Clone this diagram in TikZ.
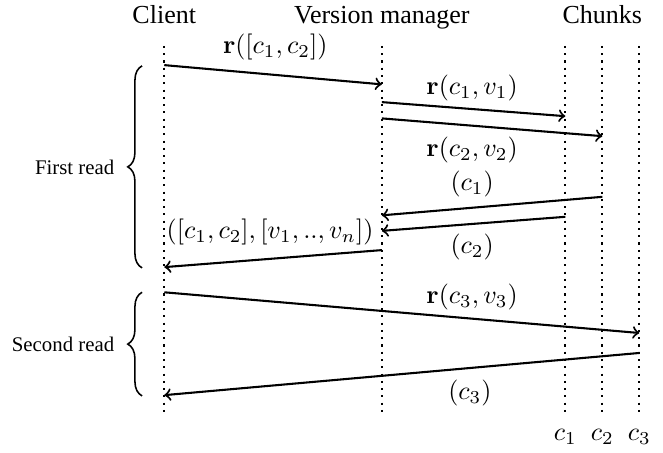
\documentclass[tikz,border=0pt]{standalone}
\usepackage[no-math]{fontspec}
\setmainfont{Liberation Serif}
\usepackage{amsmath}
\usepackage{amssymb}
\usetikzlibrary{decorations.pathreplacing}

\begin{document}
\begin{tikzpicture}[
        life/.style={thick,dotted},
        msg/.style={->,thick},
        readbrace/.style={semithick,decorate,decoration={brace,amplitude=5.5pt}}]

        \useasboundingbox (0,0) rectangle (8.96,-6.12);

        % heads
        \node[anchor=base] (client) at (2.22,-0.32) {Client};
        \node[anchor=base] (vm) at (5.16,-0.32) {Version manager};
        \node[anchor=base] (chunks) at (8.14,-0.32) {Chunks};

        % lifelines
        \coordinate (clTop) at (2.22,-0.62);
        \coordinate (clBot) at (2.22,-5.57);
        \coordinate (vmTop) at (5.16,-0.62);
        \coordinate (vmBot) at (5.16,-5.57);
        \coordinate (cATop) at (7.64,-0.62);
        \coordinate (cABot) at (7.64,-5.57);
        \coordinate (cBTop) at (8.14,-0.62);
        \coordinate (cBBot) at (8.14,-5.57);
        \coordinate (cCTop) at (8.64,-0.62);
        \coordinate (cCBot) at (8.64,-5.57);

        \draw[life] (clTop) -- (clBot);
        \draw[life] (vmTop) -- (vmBot);
        \draw[life] (cATop) -- (cABot);
        \draw[life] (cBTop) -- (cBBot);
        \draw[life] (cCTop) -- (cCBot);

        \node[anchor=base] (cA) at (7.64,-5.95) {$c_1$};
        \node[anchor=base] (cB) at (8.14,-5.95) {$c_2$};
        \node[anchor=base] (cC) at (8.64,-5.95) {$c_3$};

        % first read
        \coordinate (req1s) at (2.22,-0.88);
        \coordinate (req1e) at (5.16,-1.14);
        \coordinate (get1s) at (5.16,-1.38);
        \coordinate (get1e) at (7.64,-1.57);
        \coordinate (get2s) at (5.16,-1.60);
        \coordinate (get2e) at (8.14,-1.84);
        \coordinate (ans2s) at (8.14,-2.66);
        \coordinate (ans2e) at (5.16,-2.91);
        \coordinate (ans1s) at (7.64,-2.93);
        \coordinate (ans1e) at (5.16,-3.12);
        \coordinate (rep1s) at (5.16,-3.38);
        \coordinate (rep1e) at (2.22,-3.61);

        \draw[msg] (req1s) -- (req1e);
        \draw[msg] (get1s) -- (get1e);
        \draw[msg] (get2s) -- (get2e);
        \draw[msg] (ans2s) -- (ans2e);
        \draw[msg] (ans1s) -- (ans1e);
        \draw[msg] (rep1s) -- (rep1e);

        \node (req1) at (3.72,-0.64) {$\mathbf{r}([c_1,c_2])$};
        \node (get1) at (6.38,-1.19) {$\mathbf{r}(c_1,v_1)$};
        \node (get2) at (6.38,-2.03) {$\mathbf{r}(c_2,v_2)$};
        \node (ans2) at (6.38,-2.49) {$(c_1)$};
        \node (ans1) at (6.38,-3.34) {$(c_2)$};
        \node (rep1) at (3.65,-3.14) {$([c_1,c_2],[v_1,..,v_n])$};

        % second read
        \coordinate (req2s) at (2.22,-3.95);
        \coordinate (req2e) at (8.64,-4.50);
        \coordinate (rep2s) at (8.64,-4.77);
        \coordinate (rep2e) at (2.22,-5.34);

        \draw[msg] (req2s) -- (req2e);
        \draw[msg] (rep2s) -- (rep2e);

        \node (req2) at (6.38,-4.02) {$\mathbf{r}(c_3,v_3)$};
        \node (rep2) at (6.35,-5.31) {$(c_3)$};

        % braces
        \coordinate (firstBot) at (1.92,-3.62);
        \coordinate (firstTop) at (1.92,-0.89);
        \coordinate (secondBot) at (1.92,-5.35);
        \coordinate (secondTop) at (1.92,-3.95);

        \draw[readbrace] (firstBot) -- (firstTop);
        \draw[readbrace] (secondBot) -- (secondTop);

        \node[anchor=east,inner sep=0pt,font=\footnotesize] (first) at (1.55,-2.26) {First read};
        \node[anchor=east,inner sep=0pt,font=\footnotesize] (second) at (1.55,-4.66) {Second read};

\end{tikzpicture}
\end{document}
